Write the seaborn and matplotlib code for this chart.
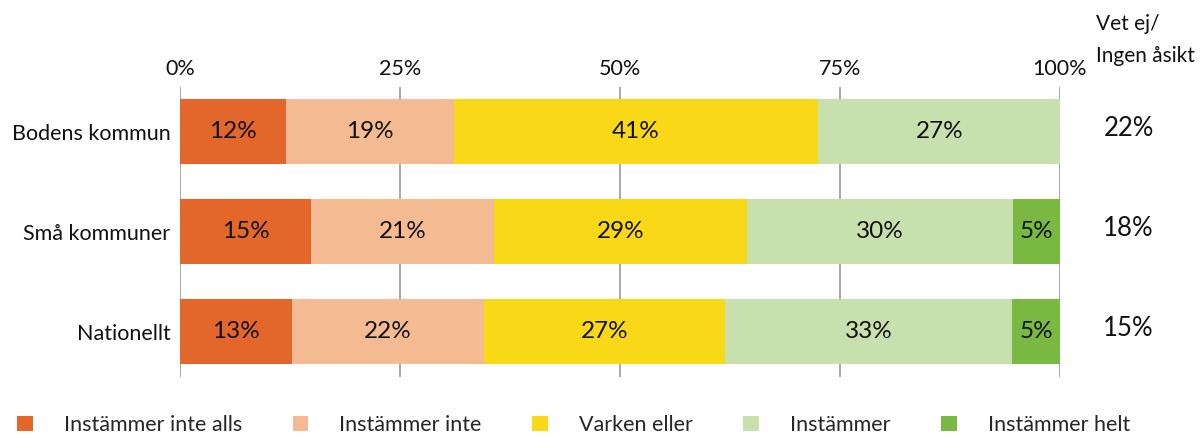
import matplotlib
matplotlib.use("Agg")
import matplotlib.pyplot as plt
import seaborn as sns
import pandas as pd
import numpy as np
from matplotlib.patches import Patch

groups = ["Bodens kommun", "Små kommuner", "Nationellt"]
categories = ["Instämmer inte alls", "Instämmer inte", "Varken eller", "Instämmer", "Instämmer helt"]
inte_alls = [12.1, 14.9, 12.7]
inte = [19.0, 20.8, 21.9]
varken = [41.45, 28.7, 27.3]
instammer = [27.45, 30.3, 32.7]
helt = [0.0, 5.3, 5.4]
vet_ej = [22, 18, 15]
xticks = [0, 25, 50, 75, 100]
colors = ["#E3672A", "#F4BB93", "#F8D817", "#C8E0AD", "#7AB941"]

sns.set_theme(style="white")
plt.rcParams["font.family"] = ["Lato", "DejaVu Sans"]

W, H = 1203, 437
fig = plt.figure(figsize=(W / 100, H / 100), dpi=100)
ax = fig.add_axes([180 / W, 1 - 377 / H, 880 / W, 290 / H])

series = [inte_alls, inte, varken, instammer, helt]
vals = np.array(series)
cum = np.cumsum(vals, axis=0)

for i in reversed(range(len(series))):
    d = pd.DataFrame({"grupp": groups, "v": cum[i]})
    sns.barplot(data=d, x="v", y="grupp", order=groups, color=colors[i],
                orient="h", width=0.65, saturation=1, errorbar=None,
                linewidth=0, edgecolor="none", ax=ax, zorder=2)

for i in range(len(series)):
    for j in range(len(groups)):
        v = vals[i, j]
        if v <= 0:
            continue
        start = cum[i, j] - v
        ax.text(start + v / 2, j, f"{round(v)}%", ha="center", va="center",
                fontsize=17.5, color="#111111", zorder=3)

for j, v in enumerate(vet_ej):
    ax.text(107.8, j - 0.03, f"{v}%", ha="center", va="center",
            fontsize=18.5, color="#111111", clip_on=False)

fig.text(1096 / W, 1 - 24 / H, "Vet ej/", ha="left", va="center", fontsize=15, color="#111111")
fig.text(1096 / W, 1 - 56 / H, "Ingen åsikt", ha="left", va="center", fontsize=15, color="#111111")

ax.set_xlim(0, 100)
ax.set_ylim(2.455, -0.445)
ax.xaxis.tick_top()
ax.set_xticks(xticks)
ax.set_xticklabels([f"{t}%" for t in xticks])
ax.tick_params(axis="x", length=0, pad=6, labelsize=15.5, labelcolor="#111111")
ax.tick_params(axis="y", length=0, pad=7, labelsize=15.5, labelcolor="#111111")
ax.set_xlabel("")
ax.set_ylabel("")
ax.grid(axis="x", color="#9a9a9a", linewidth=1.2)
ax.grid(axis="y", visible=False)
ax.set_axisbelow(True)
for s in ax.spines.values():
    s.set_visible(False)

handles = [Patch(facecolor=c, edgecolor="none", label=l) for c, l in zip(colors, categories)]
fig.legend(handles=handles, loc="center left", bbox_to_anchor=(17 / W, 1 - 425 / H),
           ncol=5, frameon=False, fontsize=15.5, handlelength=0.74, handleheight=0.74,
           handletextpad=1.43, columnspacing=2.35, borderpad=0, borderaxespad=0)

fig.savefig("out.png", dpi=100)
